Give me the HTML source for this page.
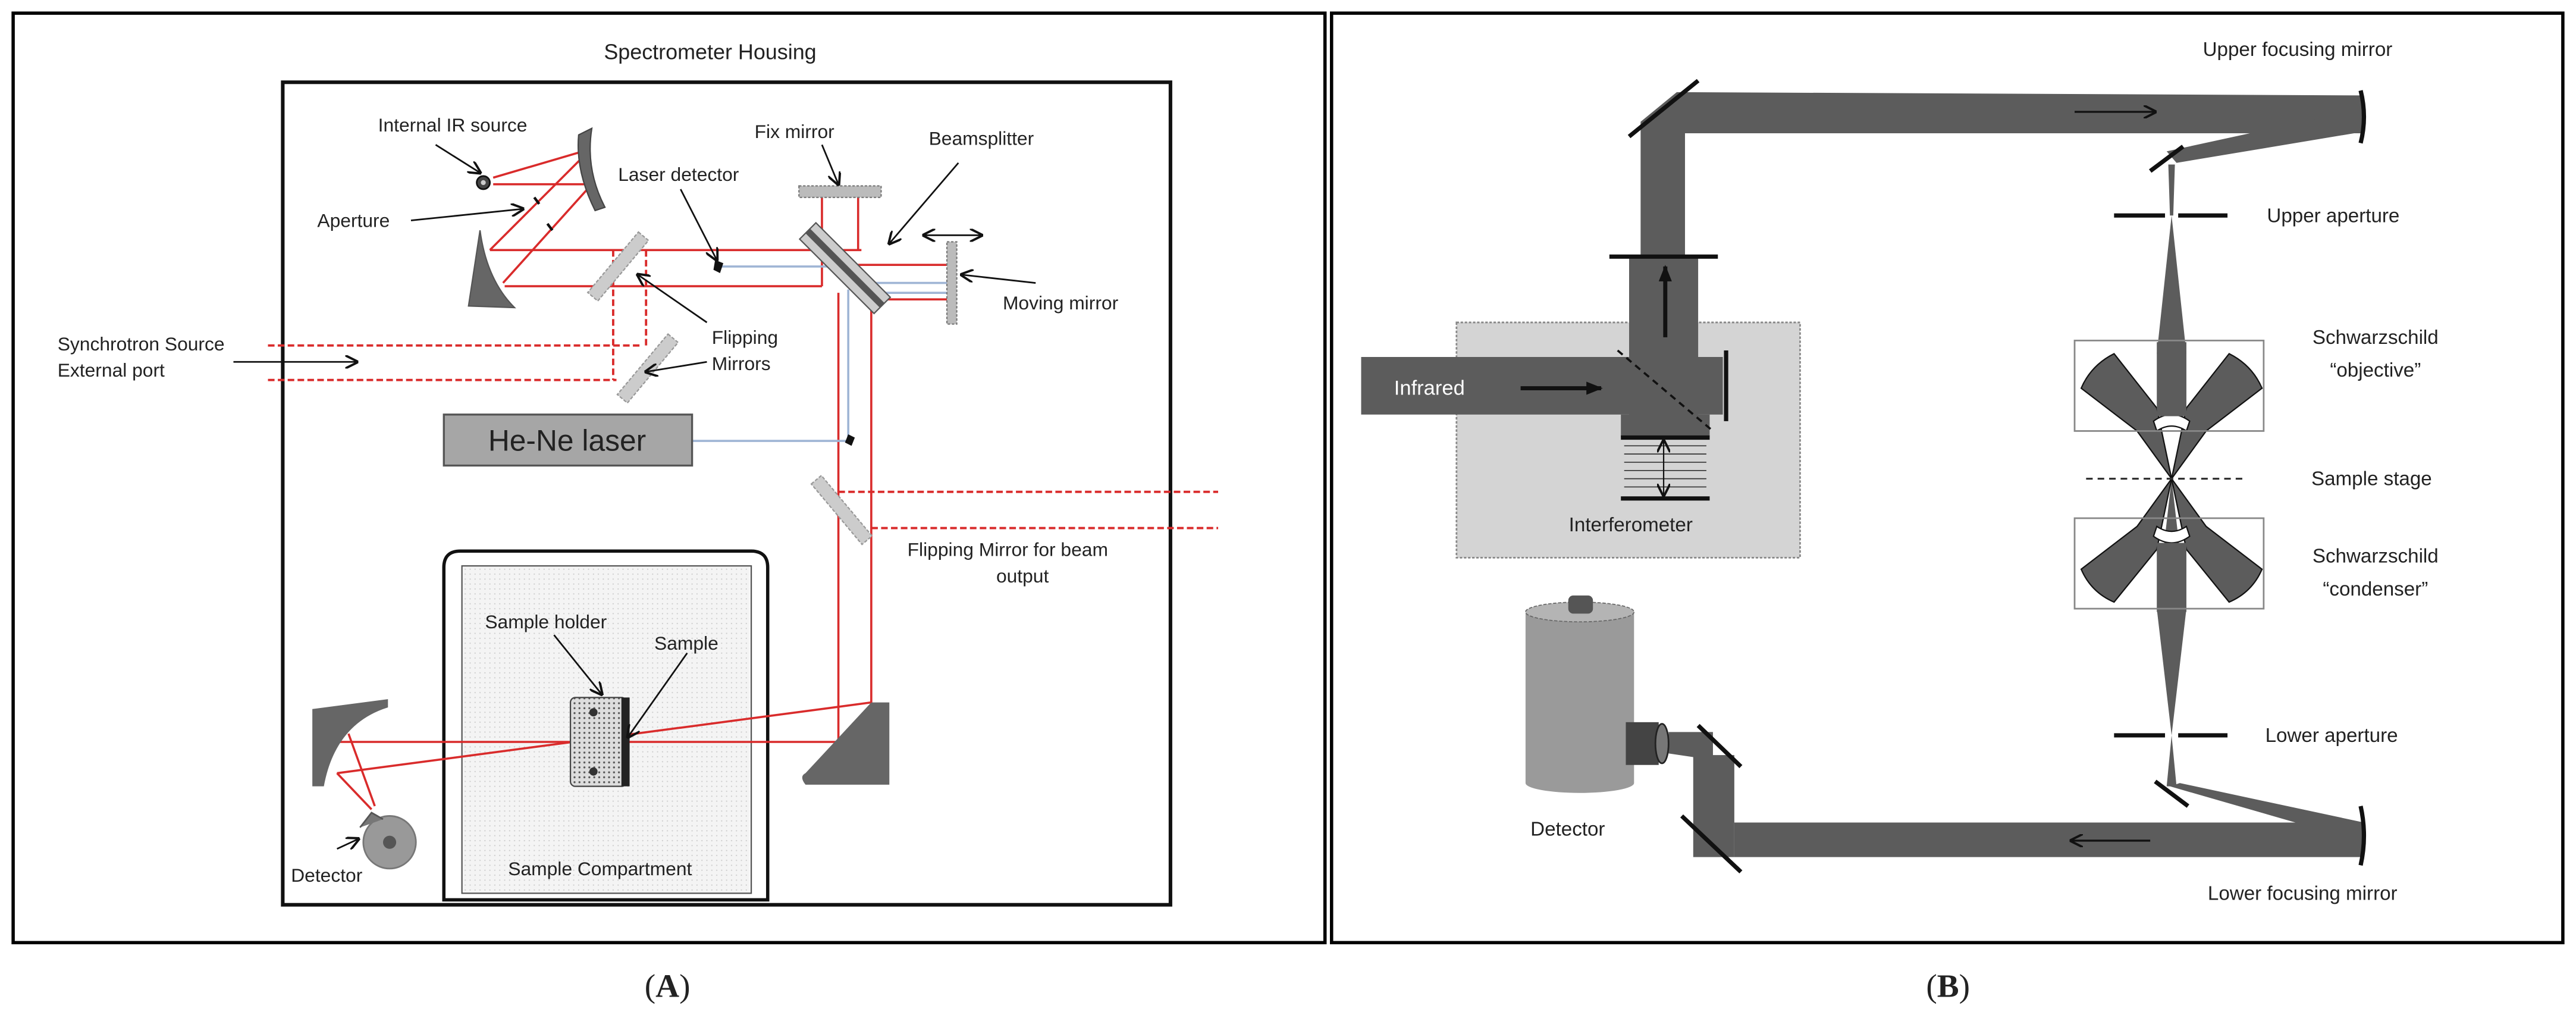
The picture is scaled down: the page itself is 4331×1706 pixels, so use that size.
<!DOCTYPE html>
<html><head><meta charset="utf-8"><style>
html,body{margin:0;padding:0;background:#fff;}
svg{display:block;}
text{font-family:"Liberation Sans",sans-serif;fill:#222;}
</style></head><body>
<svg width="4331" height="1706" viewBox="0 0 1567 617" preserveAspectRatio="none" xmlns="http://www.w3.org/2000/svg">
<defs>
<marker id="ah" markerWidth="8" markerHeight="8" refX="7" refY="4" orient="auto" markerUnits="userSpaceOnUse"><path d="M0,0 L8,4 L0,8" fill="none" stroke="#111" stroke-width="1.4"/></marker>
<marker id="ahs" markerWidth="8" markerHeight="8" refX="7" refY="4" orient="auto-start-reverse" markerUnits="userSpaceOnUse"><path d="M0,0 L8,4 L0,8" fill="none" stroke="#111" stroke-width="1.4"/></marker>
<marker id="af" markerWidth="10" markerHeight="8" refX="9" refY="4" orient="auto" markerUnits="userSpaceOnUse"><path d="M0,0 L10,4 L0,8 Z" fill="#111"/></marker>
<pattern id="dots" width="3" height="3" patternUnits="userSpaceOnUse"><rect width="3" height="3" fill="#f4f4f4"/><circle cx="1" cy="1" r="0.4" fill="#ccc"/></pattern>
<pattern id="dots2" width="3" height="3" patternUnits="userSpaceOnUse"><rect width="3" height="3" fill="#ddd"/><circle cx="1.5" cy="1.5" r="0.6" fill="#555"/></pattern>
</defs>

<!-- Panel A -->
<rect x="8" y="8" width="798" height="565" fill="#fff" stroke="#000" stroke-width="2"/>
<text x="432" y="36" font-size="13" text-anchor="middle">Spectrometer Housing</text>
<rect x="172" y="50" width="540" height="500" fill="none" stroke="#111" stroke-width="2.2"/>

<!-- sample compartment -->
<path d="M270,547 V345 Q270,335 280,335 H457 Q467,335 467,345 V547 Z" fill="#fff" stroke="#111" stroke-width="2"/>
<rect x="281" y="344" width="176" height="199" fill="url(#dots)" stroke="#555" stroke-width="0.8"/>

<!-- red beams -->
<g stroke="#d92b2b" stroke-width="1.3" fill="none">
<line x1="300" y1="108" x2="358" y2="91"/>
<line x1="300" y1="112" x2="360" y2="112"/>
<line x1="358" y1="92" x2="298" y2="152"/>
<line x1="360" y1="112" x2="306" y2="172"/>
<line x1="298" y1="152" x2="524" y2="152"/>
<line x1="307" y1="174" x2="500" y2="174"/>
<line x1="500" y1="120" x2="500" y2="174"/>
<line x1="522" y1="120" x2="522" y2="152"/>
<line x1="520" y1="161" x2="578" y2="161"/>
<line x1="524" y1="182" x2="578" y2="182"/>
<line x1="510" y1="178" x2="510" y2="452"/>
<line x1="530" y1="180" x2="530" y2="428"/>
<line x1="205" y1="451" x2="510" y2="451"/>
<line x1="205" y1="470" x2="530" y2="427"/>
<line x1="205" y1="470" x2="226" y2="492"/>
<line x1="212" y1="446" x2="228" y2="490"/>
</g>
<g stroke="#d92b2b" stroke-width="1.4" fill="none" stroke-dasharray="4,2">
<line x1="163" y1="210" x2="390" y2="210"/>
<line x1="163" y1="231" x2="375" y2="231"/>
<line x1="373" y1="152" x2="373" y2="231"/>
<line x1="393" y1="152" x2="393" y2="212"/>
<line x1="510" y1="299" x2="741" y2="299"/>
<line x1="530" y1="321" x2="741" y2="321"/>
</g>
<!-- blue beams -->
<g stroke="#9fb5d5" stroke-width="1.3" fill="none">
<line x1="437" y1="162" x2="510" y2="162"/>
<line x1="522" y1="172" x2="578" y2="172"/>
<line x1="522" y1="178" x2="578" y2="178"/>
<line x1="516" y1="176" x2="516" y2="268"/>
<line x1="421" y1="268" x2="516" y2="268"/>
</g>

<!-- mirrors A -->
<path d="M352,82 L360,78 Q356,103 368,126 L362,128 Q350,104 352,82 Z" fill="#666" stroke="#444" stroke-width="0.8"/>
<circle cx="294" cy="111" r="4" fill="#444" stroke="#111"/>
<circle cx="294" cy="111" r="1.5" fill="#ccc"/>
<line x1="325" y1="120" x2="328" y2="124" stroke="#111" stroke-width="1.6"/>
<line x1="333" y1="136" x2="336" y2="140" stroke="#111" stroke-width="1.6"/>
<path d="M285,186 L292,140 Q296,170 313,187 Z" fill="#666" stroke="#555" stroke-width="0.8"/>
<g fill="#ccc" stroke="#999" stroke-width="0.8" stroke-dasharray="2,1">
<rect x="-4" y="-24" width="8" height="48" transform="translate(376,162) rotate(40)"/>
<rect x="-4" y="-24" width="8" height="48" transform="translate(394,224) rotate(40)"/>
<rect x="-4" y="-24" width="8" height="48" transform="translate(512,310) rotate(-40)"/>
</g>
<rect x="486" y="113" width="50" height="7" fill="#bbb" stroke="#777" stroke-width="0.8" stroke-dasharray="1.5,1"/>
<rect x="576" y="147" width="6" height="50" fill="#bbb" stroke="#777" stroke-width="0.8" stroke-dasharray="1.5,1"/>
<g transform="translate(514,163) rotate(45)">
<rect x="-32" y="-7" width="64" height="14" fill="#ccc" stroke="#555" stroke-width="0.8"/>
<rect x="-32" y="-2" width="64" height="4" fill="#555"/>
</g>
<path d="M435,158 L440,160 L438,166 L434,164 Z" fill="#111"/>
<path d="M516,264 L520,266 L518,271 L514,269 Z" fill="#111"/>
<rect x="270" y="252" width="151" height="31" fill="#a6a6a6" stroke="#555" stroke-width="1.2"/>
<text x="345" y="274" font-size="18" text-anchor="middle">He-Ne laser</text>
<path d="M490,470 L530,427 L541,427 L541,477 L490,477 Q486,472 490,470 Z" fill="#666"/>
<path d="M190,431 L236,425 L236,430 Q204,440 197,478 L190,478 Z" fill="#666"/>
<rect x="347" y="424" width="34" height="54" rx="3" fill="url(#dots2)" stroke="#444" stroke-width="0.8"/>
<rect x="378" y="424" width="5" height="54" fill="#222"/>
<circle cx="361" cy="433" r="2.5" fill="#333"/>
<circle cx="361" cy="469" r="2.5" fill="#333"/>
<circle cx="237" cy="512" r="16" fill="#999" stroke="#777"/>
<circle cx="237" cy="512" r="4" fill="#555"/>
<path d="M219,503 L226,494 L233,498" fill="#777" stroke="#555"/>

<!-- labels A -->
<g font-size="11.5">
<text x="230" y="80">Internal IR source</text>
<text x="193" y="138">Aperture</text>
<text x="376" y="110">Laser detector</text>
<text x="459" y="84">Fix mirror</text>
<text x="565" y="88">Beamsplitter</text>
<text x="610" y="188">Moving mirror</text>
<text x="433" y="209">Flipping</text>
<text x="433" y="225">Mirrors</text>
<text x="35" y="213">Synchrotron Source</text>
<text x="35" y="229">External port</text>
<text x="552" y="338">Flipping Mirror for beam</text>
<text x="622" y="354" text-anchor="middle">output</text>
<text x="295" y="382">Sample holder</text>
<text x="398" y="395">Sample</text>
<text x="365" y="532" text-anchor="middle">Sample Compartment</text>
<text x="177" y="536">Detector</text>
</g>
<g stroke="#111" stroke-width="1" fill="none" marker-end="url(#ah)">
<line x1="265" y1="88" x2="292" y2="105"/>
<line x1="250" y1="134" x2="318" y2="127"/>
<line x1="414" y1="115" x2="436" y2="158"/>
<line x1="500" y1="88" x2="510" y2="112"/>
<line x1="583" y1="99" x2="541" y2="148"/>
<line x1="630" y1="172" x2="585" y2="167"/>
<line x1="430" y1="196" x2="388" y2="167"/>
<line x1="430" y1="220" x2="393" y2="226"/>
<line x1="142" y1="220" x2="217" y2="220"/>
<line x1="337" y1="386" x2="366" y2="422"/>
<line x1="418" y1="397" x2="382" y2="448"/>
<line x1="205" y1="516" x2="218" y2="510"/>
<line x1="562" y1="143" x2="597" y2="143" marker-start="url(#ahs)"/>
</g>
<text x="406" y="606" font-size="20" text-anchor="middle" font-family="Liberation Serif,serif" style="font-family:'Liberation Serif',serif">(<tspan font-weight="bold">A</tspan>)</text>

<!-- Panel B -->
<rect x="810" y="8" width="749" height="565" fill="#fff" stroke="#000" stroke-width="2"/>
<rect x="886" y="196" width="209" height="143" fill="#d4d4d4" stroke="#888" stroke-width="1" stroke-dasharray="1.5,1"/>
<g fill="#5c5c5c">
<polygon points="998,262 998,74 1020,56 1438,58 1438,81 1025,81 1025,262"/>
<rect x="991" y="156" width="42" height="110"/>
<rect x="828" y="217" width="220" height="35"/>
<rect x="986" y="252" width="54" height="14"/>
<polygon points="1438,66 1438,80 1324,99 1318,92"/>
<polygon points="1319,100 1323,100 1322,131 1320,131"/>
<polygon points="1321,131 1330,215 1312,215"/>
<polygon points="1321,291 1330,370 1312,370"/>
<polygon points="1312,370 1330,370 1321,447"/>
<polygon points="1321,447 1324,478 1318,478"/>
<polygon points="1320,478 1326,476 1438,500 1438,512"/>
<rect x="1055" y="500" width="383" height="21"/>
<rect x="1030" y="459" width="25" height="62"/>
<polygon points="1015,445 1042,445 1042,462 1015,458"/>
</g>
<!-- objective -->
<g fill="#5c5c5c" stroke="#111" stroke-width="0.8">
<path d="M1266,236 Q1272,222 1286,215 L1312,248 L1321,291 L1300,262 Z"/>
<path d="M1376,236 Q1370,222 1356,215 L1330,248 L1321,291 L1342,262 Z"/>
<path d="M1266,346 Q1272,360 1286,366 L1312,334 L1321,291 L1300,320 Z"/>
<path d="M1376,346 Q1370,360 1356,366 L1330,334 L1321,291 L1342,320 Z"/>
<path d="M1310,256 Q1321,248 1332,256 L1330,262 Q1321,256 1312,262 Z" fill="#fff"/>
<path d="M1310,326 Q1321,334 1332,326 L1330,320 Q1321,326 1312,320 Z" fill="#fff"/>
<rect x="1312" y="208" width="18" height="45" stroke="none"/>
<rect x="1312" y="330" width="18" height="42" stroke="none"/>
</g>
<rect x="1262" y="207" width="115" height="55" fill="none" stroke="#888" stroke-width="1"/>
<rect x="1262" y="315" width="115" height="55" fill="none" stroke="#888" stroke-width="1"/>
<line x1="1269" y1="291" x2="1365" y2="291" stroke="#333" stroke-width="1.2" stroke-dasharray="4,3"/>
<g stroke="#111" stroke-width="2.6" stroke-linecap="butt">
<line x1="1286" y1="131" x2="1317" y2="131"/><line x1="1325" y1="131" x2="1355" y2="131"/>
<line x1="1286" y1="447" x2="1317" y2="447"/><line x1="1325" y1="447" x2="1355" y2="447"/>
<line x1="991" y1="83" x2="1033" y2="49"/>
<line x1="1308" y1="104" x2="1328" y2="89"/>
<line x1="1311" y1="475" x2="1331" y2="490"/>
<line x1="1023" y1="496" x2="1059" y2="530"/>
<line x1="1033" y1="441" x2="1059" y2="466"/>
<line x1="979" y1="156" x2="1045" y2="156"/>
<line x1="1050" y1="213" x2="1050" y2="256"/>
<line x1="986" y1="266" x2="1040" y2="266"/>
<line x1="986" y1="303" x2="1040" y2="303"/>
<path d="M1436,55 Q1440,71 1436,87" fill="none"/>
<path d="M1436,490 Q1440,508 1436,526" fill="none"/>
</g>
<g stroke="#333" stroke-width="0.6">
<line x1="988" y1="271" x2="1038" y2="271"/><line x1="988" y1="276" x2="1038" y2="276"/>
<line x1="988" y1="281" x2="1038" y2="281"/><line x1="988" y1="286" x2="1038" y2="286"/>
<line x1="988" y1="291" x2="1038" y2="291"/><line x1="988" y1="296" x2="1038" y2="296"/>
</g>
<line x1="1012" y1="268" x2="1012" y2="301" stroke="#111" stroke-width="0.8" marker-end="url(#ah)" marker-start="url(#ahs)"/>
<line x1="984" y1="213" x2="1042" y2="262" stroke="#111" stroke-width="1.3" stroke-dasharray="4,3"/>
<g stroke="#111" stroke-width="2.5" marker-end="url(#af)">
<line x1="925" y1="236" x2="974" y2="236"/>
<line x1="1013" y1="205" x2="1013" y2="162"/>
</g>
<g stroke="#111" stroke-width="1.2" marker-end="url(#ah)">
<line x1="1262" y1="68" x2="1311" y2="68"/>
<line x1="1308" y1="511" x2="1260" y2="511"/>
</g>
<!-- detector -->
<rect x="928" y="372" width="66" height="104" fill="#9a9a9a"/>
<ellipse cx="961" cy="476" rx="33" ry="6" fill="#9a9a9a"/>
<ellipse cx="961" cy="372" rx="33" ry="6" fill="#b4b4b4" stroke="#666" stroke-width="0.6" stroke-dasharray="2,1"/>
<rect x="954" y="362" width="15" height="11" rx="3" fill="#555"/>
<rect x="989" y="439" width="20" height="26" fill="#444"/>
<ellipse cx="1011" cy="452" rx="4" ry="12" fill="#777" stroke="#222"/>
<text x="848" y="240" font-size="12.5" style="fill:#fff">Infrared</text>
<g font-size="12">
<text x="992" y="323" text-anchor="middle">Interferometer</text>
<text x="931" y="508">Detector</text>
<text x="1340" y="34">Upper focusing mirror</text>
<text x="1379" y="135">Upper aperture</text>
<text x="1445" y="209" text-anchor="middle">Schwarzschild</text>
<text x="1445" y="229" text-anchor="middle">“objective”</text>
<text x="1406" y="295">Sample stage</text>
<text x="1445" y="342" text-anchor="middle">Schwarzschild</text>
<text x="1445" y="362" text-anchor="middle">“condenser”</text>
<text x="1378" y="451">Lower aperture</text>
<text x="1343" y="547">Lower focusing mirror</text>
</g>
<text x="1185" y="606" font-size="20" text-anchor="middle" style="font-family:'Liberation Serif',serif">(<tspan font-weight="bold">B</tspan>)</text>
</svg>
</body></html>
